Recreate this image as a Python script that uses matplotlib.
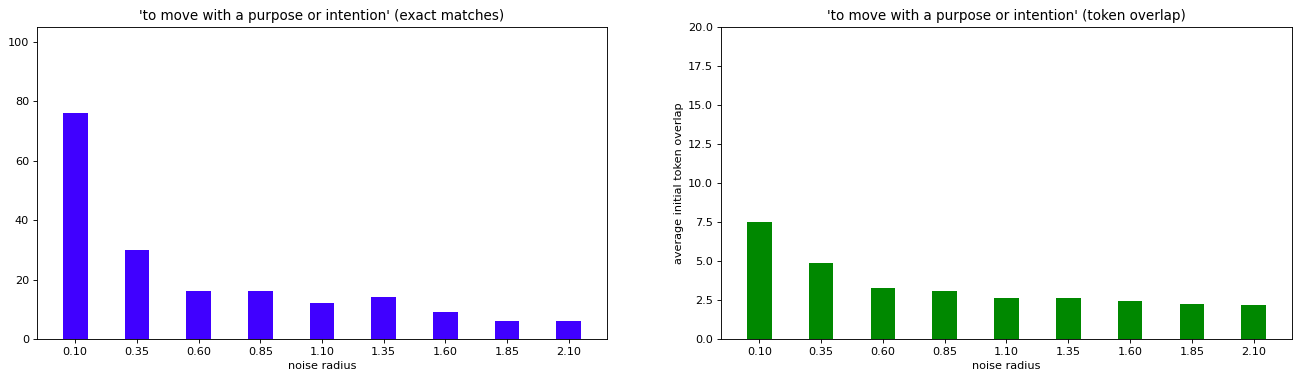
import numpy as np
from matplotlib import pyplot as plt

phrase = 'to move with a purpose or intention'
radii = ['0.10', '0.35', '0.60', '0.85', '1.10', '1.35', '1.60', '1.85', '2.10']
exact_matches = [76, 30, 16, 16, 12, 14, 9, 6, 6]
token_overlap = [7.52, 4.85, 3.25, 3.1, 2.6, 2.65, 2.42, 2.27, 2.17]

W, H, DPI = 1302, 377, 81


def main():
    """draw both charts side by side"""
    fig = plt.figure(figsize=(W / DPI, H / DPI), dpi=DPI)

    # exact matches
    ax1 = fig.add_axes([37 / W, 1 - 339 / H, 570 / W, 312 / H])
    x = np.arange(len(radii))
    ax1.bar(x, exact_matches, width=0.4, color='#4000ff')
    ax1.set_xticks(x, radii)
    ax1.set_ylim(0, 105)
    ax1.set_xlabel('noise radius')
    ax1.set_title(f"'{phrase}' (exact matches)")

    # token overlap
    ax2 = fig.add_axes([721 / W, 1 - 339 / H, 571 / W, 312 / H])
    ax2.bar(x, token_overlap, width=0.4, color='#008800')
    ax2.set_xticks(x, radii)
    ax2.set_ylim(0, 20)
    ax2.set_xlabel('noise radius')
    ax2.set_ylabel('average initial token overlap')
    ax2.set_title(f"'{phrase}' (token overlap)")

    plt.savefig('out.png', dpi=DPI)


if __name__ == '__main__':
    main()
